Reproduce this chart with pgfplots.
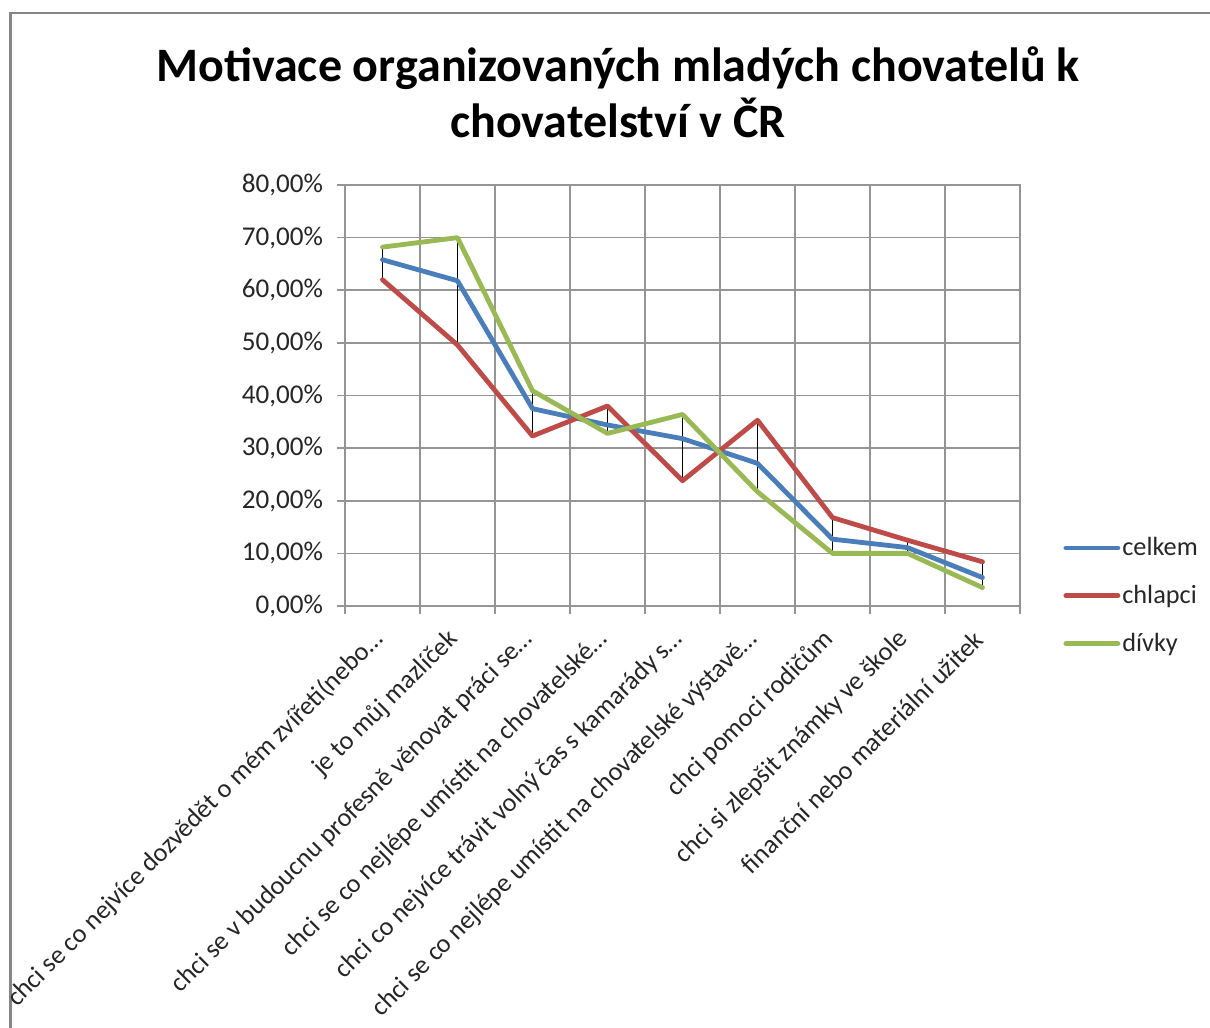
\documentclass[border=0pt]{standalone}
\usepackage{pgfplots}
\pgfplotsset{compat=1.18}
\usepackage{fontspec}
\setmainfont{Carlito}
\definecolor{cBlue}{HTML}{4A7EBB}
\definecolor{cRed}{HTML}{BE4B48}
\definecolor{cGreen}{HTML}{98B954}
\definecolor{cGrid}{HTML}{959595}
\begin{document}
\begin{tikzpicture}
\path[use as bounding box] (0,0) rectangle (605bp,514bp);
\draw[color=cGrid!90!black, line width=1.2bp] (5.25bp,0) -- (5.25bp,507.5bp) -- (605bp,507.5bp);
\node[align=center, font=\fontsize{24.1}{28}\selectfont\bfseries] at (309bp,468bp)
  {Motivace organizovaných mladých chovatelů k\\chovatelství v ČR};
\begin{axis}[
  at={(172.5bp,211bp)}, anchor=south west,
  scale only axis, width=337.5bp, height=210.5bp,
  xmin=-0.5, xmax=8.5, ymin=0, ymax=80,
  axis line style={cGrid, line width=0.8bp},
  xtick pos=bottom, ytick pos=left,
  xtick={0,...,8},
  xticklabels={chci se co nejvíce dozvědět o mém zvířeti(nebo…,
    je to můj mazlíček,
    chci se v budoucnu profesně věnovat práci se…,
    chci se co nejlépe umístit na chovatelské…,
    chci co nejvíce trávit volný čas s kamarády s…,
    chci se co nejlépe umístit na chovatelské výstavě…,
    chci pomoci rodičům,
    chci si zlepšit známky ve škole,
    finanční nebo materiální užitek},
  major x tick style={draw=none},
  minor xtick={-0.5,0.5,...,8.5},
  xminorgrids=true,
  minor x tick style={cGrid, line width=0.8bp},
  minor tick length=4bp,
  ytick={0,10,...,80},
  yticklabels={{0,00\%},{10,00\%},{20,00\%},{30,00\%},{40,00\%},{50,00\%},{60,00\%},{70,00\%},{80,00\%}},
  ymajorgrids=true,
  major y tick style={cGrid, line width=0.8bp},
  major tick length=4bp,
  tick align=outside,
  grid style={cGrid, line width=0.8bp},
  tick label style={font=\fontsize{13.6}{16}\selectfont, text=black!85},
  yticklabel style={xshift=-3.5bp},
  xticklabel style={font=\fontsize{13.2}{16}\selectfont, rotate=45, anchor=east, xshift=-5.3bp, yshift=-6.3bp},
  /pgf/number format/assume math mode=true,
  legend style={at={(1.055,0.024)}, anchor=west, draw=none, fill=none,
    font=\fontsize{13.2}{16}\selectfont, row sep=11.3bp,
    nodes={inner sep=1bp, text=black!85}},
  legend cell align=left,
  legend image code/.code={\draw[#1, line cap=round] (-1bp,0bp) -- (25bp,0bp);},
  every axis plot/.append style={line join=round, line cap=round},
]
\addplot[black, line width=0.55bp, forget plot, unbounded coords=jump] coordinates {
 (0,62.0) (0,68.2) (0,nan)
 (1,49.6) (1,70.0) (1,nan)
 (2,32.3) (2,40.9) (2,nan)
 (3,32.8) (3,38.0) (3,nan)
 (4,23.8) (4,36.4) (4,nan)
 (5,21.7) (5,35.3) (5,nan)
 (6,10.0) (6,16.8) (6,nan)
 (7,10.0) (7,12.5) (7,nan)
 (8,3.5) (8,8.4)
};
\addplot[cBlue, line width=2.4bp] coordinates {
 (0,65.8) (1,61.8) (2,37.5) (3,34.4) (4,31.8) (5,27.1) (6,12.7) (7,11.1) (8,5.4)};
\addlegendentry{celkem}
\addplot[cRed, line width=2.4bp] coordinates {
 (0,62.0) (1,49.6) (2,32.3) (3,38.0) (4,23.8) (5,35.3) (6,16.8) (7,12.5) (8,8.4)};
\addlegendentry{chlapci}
\addplot[cGreen, line width=2.4bp] coordinates {
 (0,68.2) (1,70.0) (2,40.9) (3,32.8) (4,36.4) (5,21.7) (6,10.0) (7,10.0) (8,3.5)};
\addlegendentry{dívky}
\end{axis}
\end{tikzpicture}
\end{document}
